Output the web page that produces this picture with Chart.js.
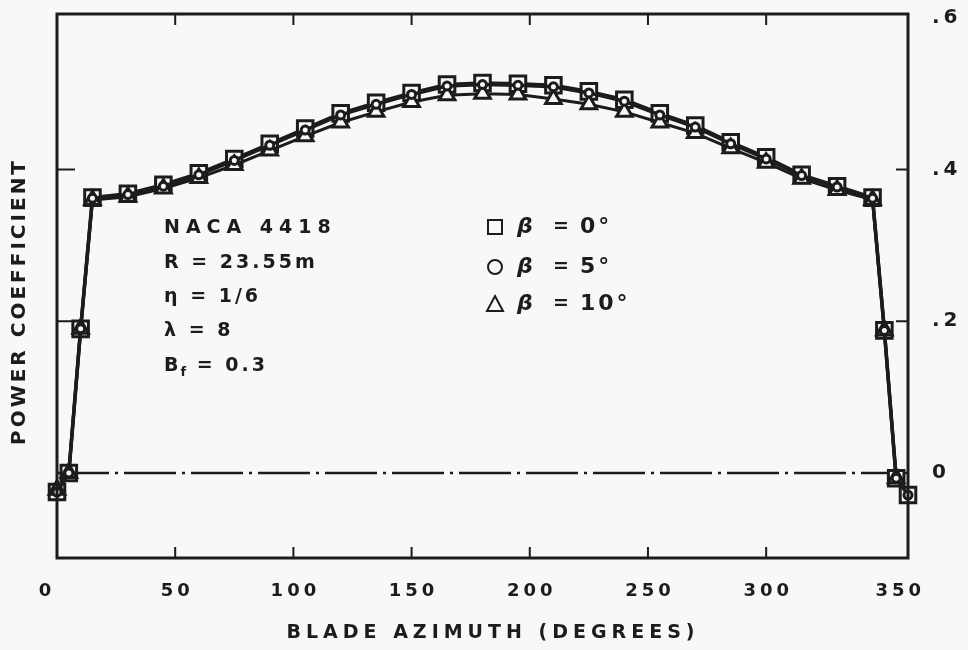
<!DOCTYPE html>
<html>
<head>
  <meta charset="UTF-8" />
  <title>Power Coefficient vs Blade Azimuth</title>
  <script src="https://cdn.jsdelivr.net/npm/chart.js"></script>
  <style>
    html, body { margin: 0; padding: 0; background: #f8f8f6; }
    .wrap { position: relative; width: 968px; height: 650px; }
  </style>
</head>
<body>
  <div class="wrap"><canvas id="cpChart" width="968" height="650"></canvas></div>
  <script>
    // blade azimuth (degrees)
    const azimuth = [0, 5, 10, 15, 30, 45, 60, 75, 90, 105, 120, 135, 150, 165, 180,
                     195, 210, 225, 240, 255, 270, 285, 300, 315, 330, 345, 350, 355, 360];
    // power coefficient, one list per coning angle
    const cpBeta0 = [-0.025, 0.0, 0.19, 0.363, 0.368, 0.380, 0.395, 0.414, 0.434, 0.454, 0.474, 0.488, 0.501, 0.512, 0.514,
                     0.513, 0.511, 0.503, 0.492, 0.474, 0.458, 0.436, 0.416, 0.393, 0.378, 0.363, 0.188, -0.007, -0.029];
    const cpBeta5 = [-0.025, 0.0, 0.19, 0.362, 0.367, 0.378, 0.393, 0.412, 0.432, 0.452, 0.472, 0.486, 0.499, 0.510, 0.512,
                     0.511, 0.509, 0.501, 0.490, 0.472, 0.456, 0.434, 0.414, 0.392, 0.377, 0.362, 0.188, -0.007, -0.029];
    const cpBeta10 = [-0.022, 0.0, 0.19, 0.360, 0.364, 0.375, 0.389, 0.406, 0.425, 0.444, 0.462, 0.476, 0.489, 0.498, 0.500,
                      0.499, 0.493, 0.486, 0.476, 0.462, 0.448, 0.428, 0.409, 0.388, 0.373, 0.360, 0.188, -0.007, null];
    const zeroLineX = [0, 360];
    const zeroLineY = [0, 0];

    const xTicks = [0, 50, 100, 150, 200, 250, 300, 350];
    const xInnerTicks = [50, 100, 150, 200, 250, 300];
    const yTicks = [0, 0.2, 0.4, 0.6];
    const yTickLabels = ['0', '.2', '.4', '.6'];
    const yInnerTicks = [0.2, 0.4];

    const seriesLabels = ['β = 0°', 'β = 5°', 'β = 10°'];
    const noteLines = ['NACA 4418', 'R = 23.55m', 'η = 1/6', 'λ = 8', 'B_f = 0.3'];
    const xTitle = 'BLADE AZIMUTH (DEGREES)';
    const yTitle = 'POWER COEFFICIENT';

    const INK = '#1c1c1c';
    const PAPER = '#f8f8f6';
    const FONT = '"DejaVu Sans", sans-serif';

    const pts = (xs, ys) => xs.map((x, i) => ({ x: x, y: ys[i] }));

    function txt(ctx, s, x, y, font, align, spacing) {
      ctx.save();
      ctx.font = font;
      ctx.letterSpacing = (spacing || 0) + 'px';
      ctx.fillStyle = INK;
      ctx.textBaseline = 'middle';
      let w = ctx.measureText(s).width;
      if (align === 'center') x -= (w - (spacing || 0)) / 2;
      ctx.textAlign = 'left';
      ctx.fillText(s, x, y);
      ctx.restore();
      return x + w;
    }

    const decor = {
      id: 'decor',
      beforeDraw(chart) {
        const c = chart.ctx;
        c.save();
        c.fillStyle = PAPER;
        c.fillRect(0, 0, chart.width, chart.height);
        c.restore();
        c.letterSpacing = '4px';
      },
      afterDraw(chart) {
        const c = chart.ctx;
        const a = chart.chartArea;
        const xs = chart.scales.x, ys = chart.scales.y;
        c.save();
        c.letterSpacing = '0px';
        c.strokeStyle = INK;
        c.lineWidth = 3;
        c.strokeRect(a.left, a.top, a.right - a.left, a.bottom - a.top);
        // inward tick marks
        c.lineWidth = 2;
        c.beginPath();
        xInnerTicks.forEach(v => {
          const px = xs.getPixelForValue(v);
          c.moveTo(px, a.top); c.lineTo(px, a.top + 11);
          c.moveTo(px, a.bottom); c.lineTo(px, a.bottom - 11);
        });
        yInnerTicks.forEach(v => {
          const py = ys.getPixelForValue(v);
          c.moveTo(a.left, py); c.lineTo(a.left + 18, py);
          c.moveTo(a.right, py); c.lineTo(a.right - 12, py);
        });
        c.stroke();
        c.restore();

        // x tick labels (end labels sit a little outside their ticks)
        xTicks.forEach((v, i) => {
          let px = xs.getPixelForValue(v);
          if (i === 0) px -= 12;
          if (i === xTicks.length - 1) px += 14;
          txt(c, String(v), px, 591, 'bold 18px ' + FONT, 'center', 4);
        });

        // axis titles
        txt(c, xTitle, (a.left + a.right) / 2 + 8, 633, 'bold 19px ' + FONT, 'center', 5);
        c.save();
        c.translate(20, 303);
        c.rotate(-Math.PI / 2);
        txt(c, yTitle, 0, 0, 'bold 20px ' + FONT, 'center', 3);
        c.restore();

        // blade data note
        const noteY = [228, 263, 297, 331, 366];
        noteLines.forEach((line, i) => {
          const f = 'bold 19px ' + FONT;
          if (line.indexOf('_') > 0) {
            const [base, rest] = line.split('_');
            let x = txt(c, base, 164, noteY[i], f, 'left', 3);
            x = txt(c, rest.charAt(0), x - 1, noteY[i] + 7, 'bold 13px ' + FONT, 'left', 0);
            txt(c, rest.slice(1), x + 1, noteY[i], f, 'left', 3);
          } else {
            txt(c, line, 164, noteY[i], f, 'left', i === 0 ? 6 : 3);
          }
        });

        // legend
        const legY = [227, 267, 304];
        const styles = ['rect', 'circle', 'triangle'];
        seriesLabels.forEach((lab, i) => {
          const y = legY[i], cx = 495;
          c.save();
          c.strokeStyle = INK;
          c.lineWidth = 2;
          c.beginPath();
          if (styles[i] === 'rect') c.rect(cx - 7, y - 7, 14, 14);
          else if (styles[i] === 'circle') c.arc(cx, y, 7, 0, Math.PI * 2);
          else { c.moveTo(cx, y - 8); c.lineTo(cx + 8, y + 7); c.lineTo(cx - 8, y + 7); c.closePath(); }
          c.stroke();
          c.restore();
          const [sym, val] = lab.split(' = ');
          txt(c, sym, 517, y, 'italic bold 22px ' + FONT, 'left', 0);
          txt(c, '=', 561, y, 'bold 19px ' + FONT, 'center', 0);
          txt(c, val, 580, y, 'bold 22px ' + FONT, 'left', 3);
        });
      }
    };

    const lineSet = (label, data, style, radius, width) => ({
      label: label,
      data: data,
      borderColor: INK,
      borderWidth: width,
      pointStyle: style,
      pointRadius: radius,
      pointBorderWidth: 3,
      pointBorderColor: INK,
      pointBackgroundColor: PAPER,
      tension: 0,
      spanGaps: false,
      clip: false
    });

    new Chart(document.getElementById('cpChart').getContext('2d'), {
      type: 'line',
      data: {
        datasets: [
          lineSet(seriesLabels[1], pts(azimuth, cpBeta5), 'circle', 4, 3.5),
          lineSet(seriesLabels[2], pts(azimuth, cpBeta10), 'triangle', 9, 3),
          lineSet(seriesLabels[0], pts(azimuth, cpBeta0), 'rect', 11, 3.5),
          {
            label: 'zero',
            data: pts(zeroLineX, zeroLineY),
            borderColor: INK,
            borderWidth: 2.5,
            borderDash: [52, 6, 3, 6],
            pointRadius: 0
          }
        ]
      },
      options: {
        responsive: false,
        animation: false,
        layout: { padding: { left: 57, top: 13, right: 0, bottom: 0 } },
        plugins: { legend: { display: false }, tooltip: { enabled: false } },
        scales: {
          x: {
            type: 'linear',
            min: 0, max: 360,
            afterBuildTicks: s => { s.ticks = xTicks.map(v => ({ value: v })); },
            afterFit: s => { s.height = 92; s.paddingLeft = 0; s.paddingRight = 0; },
            grid: { display: false, drawTicks: false },
            border: { display: false },
            ticks: { display: false }
          },
          y: {
            type: 'linear',
            position: 'right',
            min: -0.112, max: 0.605,
            afterBuildTicks: s => { s.ticks = yTicks.map(v => ({ value: v })); },
            afterFit: s => { s.width = 60; s.paddingTop = 0; s.paddingBottom = 0; },
            grid: { display: false, drawTicks: false },
            border: { display: false },
            ticks: {
              padding: 24,
              color: INK,
              font: { family: FONT, size: 20, weight: 'bold' },
              callback: v => yTickLabels[yTicks.indexOf(v)]
            }
          }
        }
      },
      plugins: [decor]
    });
  </script>
</body>
</html>
